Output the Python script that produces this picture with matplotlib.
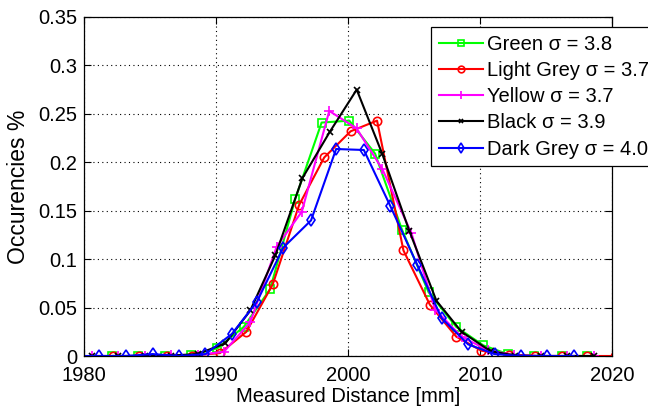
import matplotlib
matplotlib.use("Agg")
import matplotlib.pyplot as plt
import numpy as np

plt.rcParams['font.family'] = ['Liberation Sans', 'DejaVu Sans']

# ---- data ----
green_x = [1982.1, 1984.1, 1986.1, 1988.1, 1990.1, 1992.1, 1994.1, 1996.0, 1998.0, 2000.1,
           2002.05, 2004.1, 2006.1, 2008.2, 2010.25, 2012.1, 2014.1, 2016.2, 2018.1]
green_y = [0.0, 0.0, 0.0, 0.001, 0.008, 0.030, 0.069, 0.162, 0.241, 0.243,
           0.209, 0.130, 0.066, 0.030, 0.011, 0.002, 0.0, 0.0, 0.0]

red_x = [1982.2, 1984.2, 1986.3, 1988.2, 1990.3, 1992.3, 1994.3, 1996.3, 1998.2, 2000.2,
         2002.2, 2004.2, 2006.2, 2008.2, 2010.1, 2012.2, 2014.2, 2016.2, 2018.1, 2020.2]
red_y = [0.0, 0.0, 0.0, 0.0005, 0.003, 0.025, 0.074, 0.156, 0.205, 0.232,
         0.243, 0.109, 0.053, 0.020, 0.0055, 0.001, 0.0, 0.0, 0.0, 0.0]

mag_x = [1980.6, 1982.6, 1984.6, 1986.6, 1988.6, 1990.6, 1992.6, 1994.6, 1996.5, 1998.58,
         2000.65, 2002.6, 2004.8, 2006.6, 2008.6, 2010.6, 2012.6, 2014.6, 2016.6, 2018.6]
mag_y = [0.0, 0.0, 0.0, 0.001, 0.001, 0.0044, 0.035, 0.113, 0.149, 0.253,
         0.235, 0.193, 0.127, 0.048, 0.020, 0.006, 0.001, 0.0, 0.0, 0.0]

blk_x = [1980.6, 1982.6, 1984.6, 1986.6, 1988.6, 1990.7, 1992.6, 1994.5, 1996.54, 1998.6,
         2000.66, 2002.6, 2004.65, 2006.7, 2008.6, 2010.8, 2012.65, 2014.6, 2016.6, 2018.6]
blk_y = [0.0, 0.0, 0.0, 0.0005, 0.002, 0.013, 0.047, 0.104, 0.1835, 0.231,
         0.275, 0.2085, 0.129, 0.057, 0.025, 0.005, 0.0005, 0.0, 0.0, 0.0]

blu_x = [1979.1, 1981.1, 1983.2, 1985.2, 1987.2, 1989.2, 1991.2, 1993.1, 1995.1, 1997.2, 1999.1,
         2001.2, 2003.2, 2005.25, 2007.1, 2009.1, 2011.1, 2013.1, 2015.1, 2017.1]
blu_y = [0.0, 0.0, 0.0, 0.002, 0.0, 0.002, 0.0227, 0.056, 0.112, 0.140, 0.2137,
         0.2127, 0.155, 0.094, 0.039, 0.012, 0.002, 0.0, 0.0, 0.0]

labels = ['Green σ = 3.8', 'Light Grey σ = 3.7', 'Yellow σ = 3.7',
          'Black σ = 3.9', 'Dark Grey σ = 4.0']
x_ticks = [1980, 1990, 2000, 2010, 2020]
y_ticks = [0, 0.05, 0.1, 0.15, 0.2, 0.25, 0.3, 0.35]
y_tick_labels = ['0', '0.05', '0.1', '0.15', '0.2', '0.25', '0.3', '0.35']

# ---- figure ----
fig = plt.figure(figsize=(6.48, 4.07), dpi=100)
ax = fig.add_axes([84/648, 1 - 356/407, (612-84)/648, (356-17)/407])

lw = 1.5
ax.plot(green_x, green_y, color=(0, 1, 0), lw=lw, marker='s', ms=6, mfc='none', mew=1.2, label=labels[0])
ax.plot(red_x, red_y, color=(1, 0, 0), lw=lw, marker='o', ms=6, mfc='none', mew=1.2, label=labels[1])
ax.plot(mag_x, mag_y, color=(1, 0, 1), lw=lw, marker='+', ms=7, mew=1.2, label=labels[2])
ax.plot(blk_x, blk_y, color='black', lw=lw, marker='x', ms=4, mew=1.2, label=labels[3])
ax.plot(blu_x, blu_y, color=(0, 0, 1), lw=lw, marker='d', ms=6, mfc='none', mew=1.2, label=labels[4])

ax.set_xlim(1980, 2020)
ax.set_ylim(0, 0.35)
ax.set_xticks(x_ticks)
ax.set_yticks(y_ticks)
ax.set_yticklabels(y_tick_labels)
ax.tick_params(direction='in', length=5, top=True, right=True, labelsize=14.5, width=0.8)
ax.tick_params(axis='x', pad=7)
ax.tick_params(axis='y', pad=5)
ax.grid(True, linestyle=(0, (1, 3)), color='black', linewidth=0.8)
for s in ax.spines.values():
    s.set_linewidth(0.9)

ax.set_xlabel('Measured Distance [mm]', fontsize=14.5, labelpad=2)
ax.set_ylabel('Occurencies %', fontsize=16.5, labelpad=6)

leg = ax.legend(loc='upper left', bbox_to_anchor=(431/648, 1 - 27/407), bbox_transform=fig.transFigure,
                fontsize=14.5, frameon=True, fancybox=False, edgecolor='black', framealpha=1,
                handlelength=2.2, handletextpad=0.2, labelspacing=0.36, borderpad=0.38,
                borderaxespad=0, markerscale=0.8)
leg.get_frame().set_linewidth(0.9)

fig.savefig('out.png', dpi=100)
